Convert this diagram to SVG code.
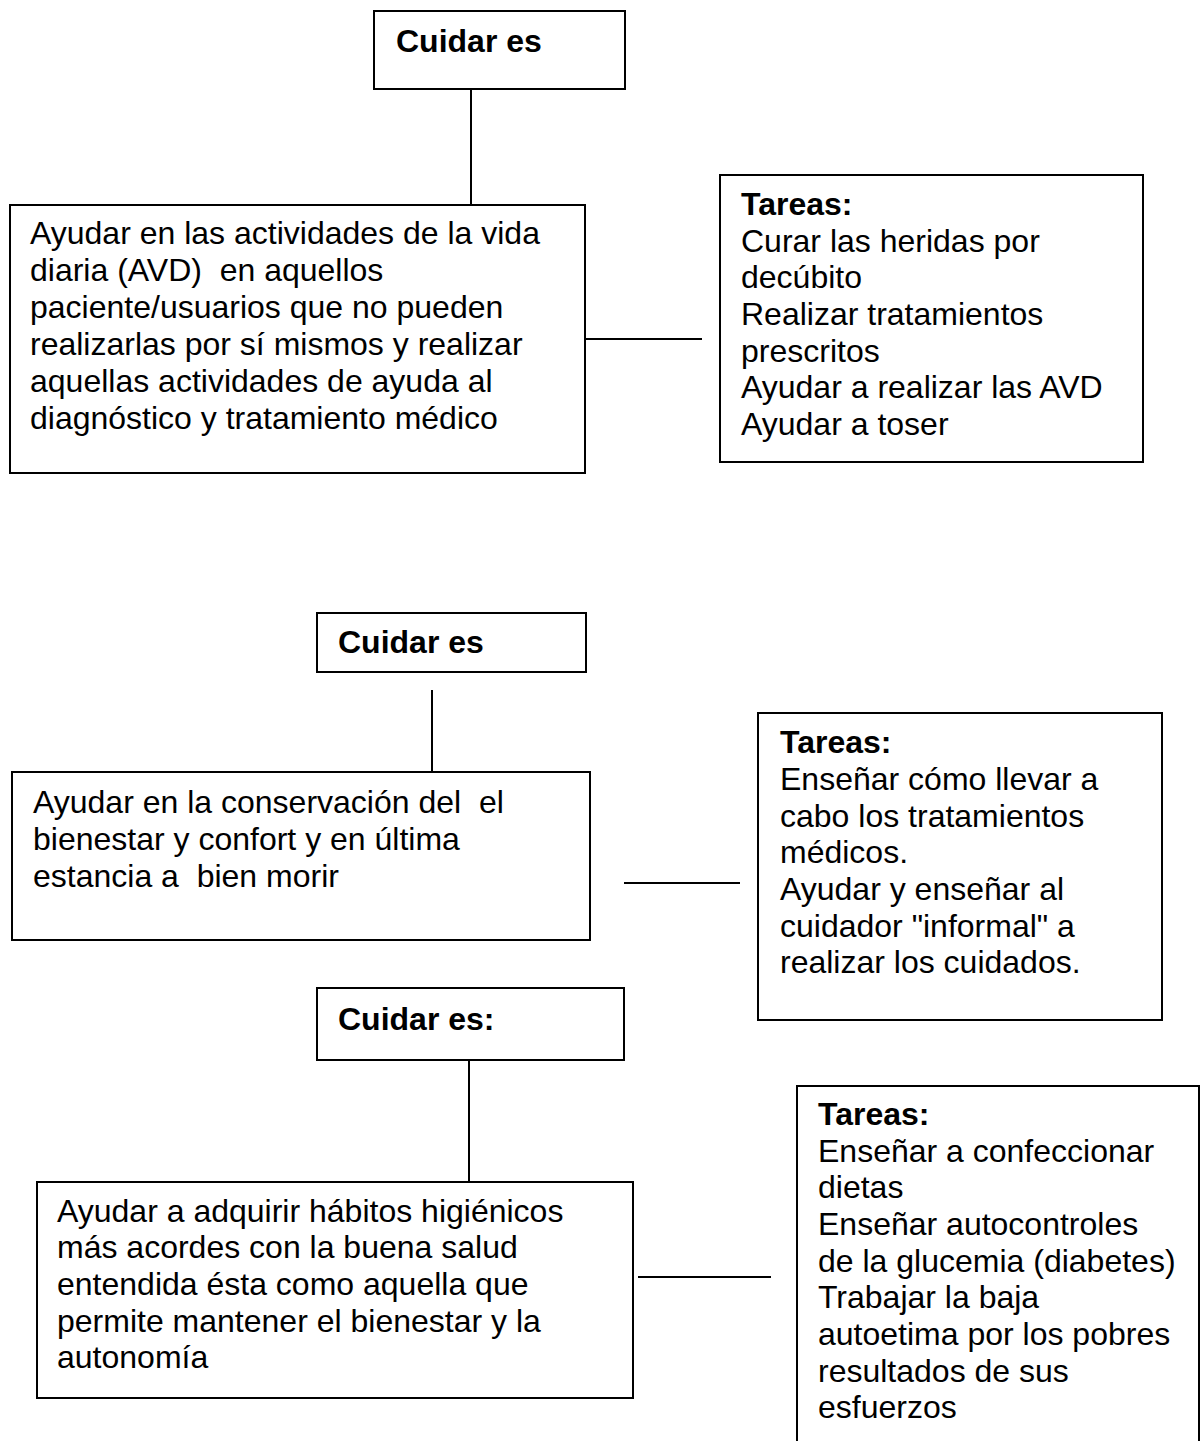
<svg xmlns="http://www.w3.org/2000/svg" width="1203" height="1441" viewBox="0 0 1203 1441">
<style>
.box{fill:#fff;stroke:#000;stroke-width:2}
.ln{stroke:#000;stroke-width:2;fill:none}
text{font-family:"Liberation Sans",Arial,sans-serif;font-size:32px;fill:#000}
.b{font-weight:bold}
</style>
<rect width="1203" height="1441" fill="#fff"/>
<g id="connectors">
<line class="ln" x1="471" y1="89" x2="471" y2="205"/>
<line class="ln" x1="585" y1="339" x2="702" y2="339"/>
<line class="ln" x1="432" y1="690" x2="432" y2="772"/>
<line class="ln" x1="624" y1="883" x2="740" y2="883"/>
<line class="ln" x1="469" y1="1060" x2="469" y2="1182"/>
<line class="ln" x1="638" y1="1277" x2="771" y2="1277"/>
</g>
<g id="cuidar1">
<rect class="box" x="374" y="11" width="251" height="78"/>
<text class="b" x="396" y="52">Cuidar es</text>
</g>
<g id="ayudar1">
<rect class="box" x="10" y="205" width="575" height="268"/>
<text x="30" y="244">Ayudar en las actividades de la vida</text>
<text x="30" y="281" xml:space="preserve">diaria (AVD)  en aquellos</text>
<text x="30" y="318">paciente/usuarios que no pueden</text>
<text x="30" y="355">realizarlas por sí mismos y realizar</text>
<text x="30" y="392">aquellas actividades de ayuda al</text>
<text x="30" y="429">diagnóstico y tratamiento médico</text>
</g>
<g id="tareas1">
<rect class="box" x="720" y="175" width="423" height="287"/>
<text class="b" x="741" y="215">Tareas:</text>
<text x="741" y="252">Curar las heridas por</text>
<text x="741" y="288">decúbito</text>
<text x="741" y="325">Realizar tratamientos</text>
<text x="741" y="362">prescritos</text>
<text x="741" y="398">Ayudar a realizar las AVD</text>
<text x="741" y="435">Ayudar a toser</text>
</g>
<g id="cuidar2">
<rect class="box" x="317" y="613" width="269" height="59"/>
<text class="b" x="338" y="653">Cuidar es</text>
</g>
<g id="ayudar2">
<rect class="box" x="12" y="772" width="578" height="168"/>
<text x="33" y="813" xml:space="preserve">Ayudar en la conservación del  el</text>
<text x="33" y="850">bienestar y confort y en última</text>
<text x="33" y="887" xml:space="preserve">estancia a  bien morir</text>
</g>
<g id="tareas2">
<rect class="box" x="758" y="713" width="404" height="307"/>
<text class="b" x="780" y="753">Tareas:</text>
<text x="780" y="790">Enseñar cómo llevar a</text>
<text x="780" y="827">cabo los tratamientos</text>
<text x="780" y="863">médicos.</text>
<text x="780" y="900">Ayudar y enseñar al</text>
<text x="780" y="937">cuidador "informal" a</text>
<text x="780" y="973">realizar los cuidados.</text>
</g>
<g id="cuidar3">
<rect class="box" x="317" y="988" width="307" height="72"/>
<text class="b" x="338" y="1030">Cuidar es:</text>
</g>
<g id="ayudar3">
<rect class="box" x="37" y="1182" width="596" height="216"/>
<text x="57" y="1222">Ayudar a adquirir hábitos higiénicos</text>
<text x="57" y="1258">más acordes con la buena salud</text>
<text x="57" y="1295">entendida ésta como aquella que</text>
<text x="57" y="1332">permite mantener el bienestar y la</text>
<text x="57" y="1368">autonomía</text>
</g>
<g id="tareas3">
<rect class="box" x="797" y="1086" width="402" height="370"/>
<text class="b" x="818" y="1125">Tareas:</text>
<text x="818" y="1162">Enseñar a confeccionar</text>
<text x="818" y="1198">dietas</text>
<text x="818" y="1235">Enseñar autocontroles</text>
<text x="818" y="1272">de la glucemia (diabetes)</text>
<text x="818" y="1308">Trabajar la baja</text>
<text x="818" y="1345">autoetima por los pobres</text>
<text x="818" y="1382">resultados de sus</text>
<text x="818" y="1418">esfuerzos</text>
</g>
</svg>
